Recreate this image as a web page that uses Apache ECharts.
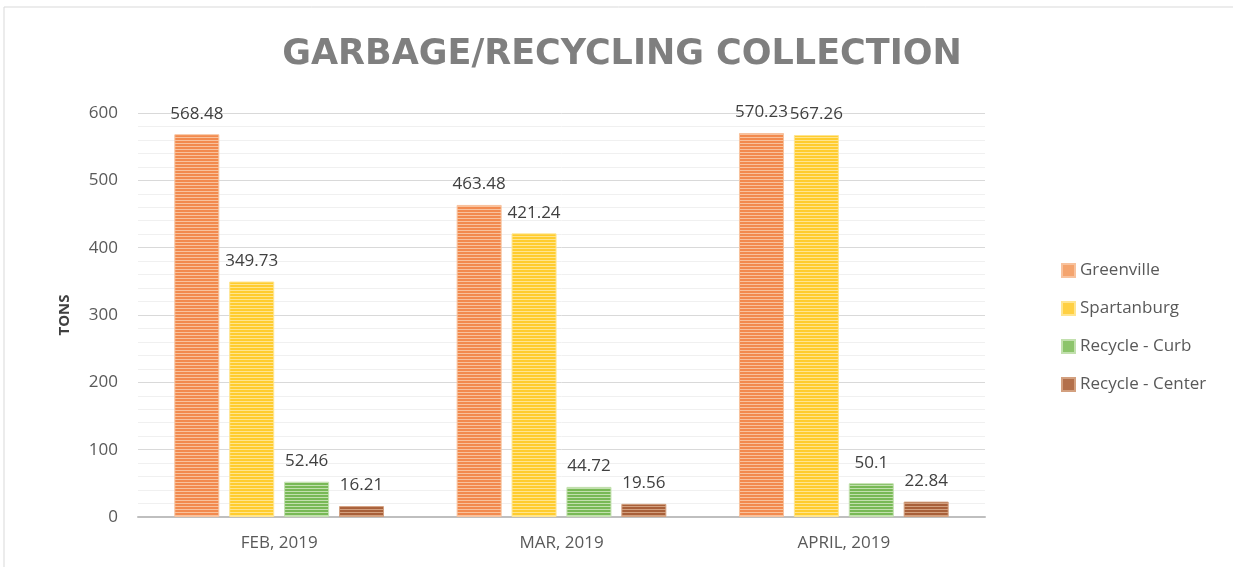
<!DOCTYPE html>
<html><head><meta charset="utf-8">
<script src="https://cdn.jsdelivr.net/npm/echarts@6/dist/echarts.min.js"></script>
<style>html,body{margin:0;padding:0;background:#fff}#c{width:1233px;height:567px}</style>
</head><body><div id="c"></div>
<script>
const categories = ['FEB, 2019', 'MAR, 2019', 'APRIL, 2019'];
const seriesNames = ['Greenville', 'Spartanburg', 'Recycle - Curb', 'Recycle - Center'];
const greenville = [568.48, 463.48, 570.23];
const spartanburg = [349.73, 421.24, 567.26];
const recycleCurb = [52.46, 44.72, 50.1];
const recycleCenter = [16.21, 19.56, 22.84];
const yTicks = [0, 100, 200, 300, 400, 500, 600];

const palette = [
  {dark: '#F28A4E', light: '#F8C29D', legend: '#F4A46E'},
  {dark: '#FFCC2E', light: '#FFE58F', legend: '#FFD043'},
  {dark: '#78B956', light: '#C2E0AE', legend: '#8CC46B'},
  {dark: '#A8603A', light: '#D3A07F', legend: '#B3704B'}
];
function stripe(p) {
  const c = document.createElement('canvas');
  c.width = 4; c.height = 3;
  const g = c.getContext('2d');
  g.fillStyle = p.dark; g.fillRect(0, 0, 4, 2);
  g.fillStyle = p.light; g.fillRect(0, 2, 4, 1);
  return c;
}
const dataSets = [greenville, spartanburg, recycleCurb, recycleCenter];
const chart = echarts.init(document.getElementById('c'), null, {renderer: 'canvas'});
const series = dataSets.map((d, i) => ({
  name: seriesNames[i],
  type: 'bar',
  data: d,
  barWidth: 45,
  barGap: '22%',
  itemStyle: {color: {image: stripe(palette[i]), repeat: 'repeat'}, borderColor: palette[i].light, borderWidth: 1},
  label: {show: true, position: 'top', distance: 12, color: '#404040', fontSize: 17, fontFamily: 'Open Sans'}
}));
chart.setOption({
  backgroundColor: '#fff',
  animation: false,
  graphic: [
    {type: 'line', shape: {x1: 4, y1: 7, x2: 1233, y2: 7}, style: {stroke: '#D9D9D9', lineWidth: 1}},
    {type: 'line', shape: {x1: 4, y1: 7, x2: 4, y2: 567}, style: {stroke: '#D9D9D9', lineWidth: 1}}
  ],
  title: {
    text: 'GARBAGE/RECYCLING COLLECTION',
    left: 617, top: 32, textAlign: 'center',
    textStyle: {color: '#7F7F7F', fontSize: 35, fontWeight: 'bold', fontFamily: 'DejaVu Sans'}
  },
  legend: {
    orient: 'vertical', left: 1056, top: 257, itemGap: 21,
    itemWidth: 13, itemHeight: 13, icon: 'rect',
    textStyle: {color: '#595959', fontSize: 17, fontFamily: 'Open Sans'},
    data: seriesNames.map((n, i) => ({name: n, itemStyle: {color: palette[i].legend}}))
  },
  grid: {left: 138, right: 248, top: 113, bottom: 50, containLabel: false},
  xAxis: {
    type: 'category', data: categories,
    axisLine: {lineStyle: {color: '#BFBFBF', width: 2}},
    axisTick: {show: false},
    axisLabel: {color: '#595959', fontSize: 17, margin: 18, fontFamily: 'Open Sans'}
  },
  yAxis: {
    type: 'value', min: yTicks[0], max: yTicks[yTicks.length - 1], interval: 100,
    name: 'TONS', nameLocation: 'middle', nameGap: 66, nameRotate: 90,
    nameTextStyle: {color: '#404040', fontSize: 15, fontWeight: 'bold', fontFamily: 'Open Sans'},
    axisLine: {show: false}, axisTick: {show: false},
    axisLabel: {color: '#595959', fontSize: 17, margin: 20, fontFamily: 'Open Sans'},
    splitLine: {lineStyle: {color: '#D9D9D9', width: 1}},
    minorTick: {show: false, splitNumber: 5},
    minorSplitLine: {show: true, lineStyle: {color: '#F0F0F0', width: 1}}
  },
  series: series
});
</script></body></html>
